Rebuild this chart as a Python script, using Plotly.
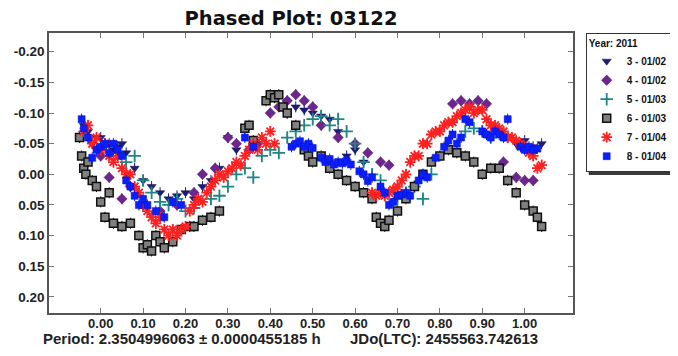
import plotly.graph_objects as go

# ---------------- data ----------------
s3_phase = [-0.04, -0.03, -0.02, -0.01, 0.00, 0.01, 0.02, 0.03, 0.04, 0.05, 0.06, 0.08,
            0.10, 0.12, 0.14, 0.16, 0.18, 0.20, 0.22, 0.24, 0.26, 0.28, 0.30, 0.32,
            0.44, 0.46, 0.48, 0.50, 0.52, 0.54, 0.56, 0.58, 0.60, 0.62,
            0.96, 0.98, 1.00, 1.02, 1.04]
s3_mag = [-0.08, -0.07, -0.05, -0.06, -0.06, -0.045, -0.05, -0.04, -0.045, -0.05, -0.035, -0.01,
          0.01, 0.02, 0.03, 0.04, 0.035, 0.03, 0.04, 0.02, 0.01, -0.01, -0.06, -0.04,
          -0.10, -0.11, -0.105, -0.10, -0.095, -0.09, -0.07, -0.03, -0.04, -0.02,
          -0.06, -0.05, -0.055, -0.045, -0.05]

s4_phase = [0.00, 0.02, 0.05, 0.07, 0.10, 0.14, 0.18, 0.22, 0.24, 0.27, 0.30, 0.32, 0.35,
            0.37, 0.40, 0.42, 0.44, 0.46, 0.48, 0.50, 0.52, 0.56, 0.60, 0.63, 0.66, 0.68,
            0.83, 0.85, 0.87, 0.89, 0.91, 0.95, 0.98, 1.00, 1.02]
s4_mag = [-0.03, 0.005, 0.04, 0.02, 0.05, 0.06, 0.05, 0.03, 0.0, -0.01, -0.06, -0.05, -0.04,
          -0.05, -0.10, -0.11, -0.12, -0.13, -0.12, -0.11, -0.08, -0.06, -0.05, -0.035, -0.02, -0.015,
          -0.115, -0.12, -0.115, -0.12, -0.115, -0.02, 0.005, 0.01, 0.01]

s5_phase = [0.06, 0.08, 0.10, 0.12, 0.14, 0.16, 0.18, 0.20, 0.22, 0.26, 0.28, 0.30, 0.32,
            0.34, 0.36, 0.38, 0.40, 0.42, 0.44, 0.46, 0.48, 0.50, 0.52, 0.54, 0.56, 0.58,
            0.60, 0.62, 0.64, 0.66, 0.70, 0.72, 0.74, 0.76, 0.78, 0.86, 0.88, 0.90, 0.92]
s5_mag = [-0.02, -0.03, 0.01, 0.03, 0.045, 0.05, 0.04, 0.06, 0.055, 0.04, 0.035, 0.02, 0.0,
          -0.01, 0.005, -0.03, -0.04, -0.035, -0.06, -0.07, -0.08, -0.09, -0.095, -0.08, -0.09, -0.07,
          -0.05, -0.02, 0.0, 0.01, 0.04, 0.03, 0.02, 0.04, 0.0, -0.07, -0.075, -0.07, -0.06]

s6_phase = [-0.05, -0.045, -0.04, -0.035, -0.03, -0.02, -0.01, 0.00, 0.01, 0.02, 0.03, 0.05,
            0.07, 0.09, 0.10, 0.11, 0.12, 0.13, 0.14, 0.15, 0.17, 0.19, 0.21,
            0.22, 0.24, 0.26, 0.28, 0.34, 0.35, 0.36, 0.39, 0.40, 0.41, 0.42, 0.43, 0.44,
            0.46, 0.48, 0.49, 0.50, 0.52, 0.54, 0.56, 0.58, 0.60, 0.62, 0.64, 0.65, 0.66,
            0.67, 0.68, 0.70, 0.72, 0.74, 0.76, 0.78, 0.80, 0.82, 0.84, 0.86, 0.88, 0.90,
            0.92, 0.94, 0.96, 0.98, 1.00, 1.02, 1.03, 1.04]
s6_mag = [-0.06, -0.03, -0.01, 0.00, -0.02, 0.01, 0.02, 0.045, 0.07, 0.03, 0.08, 0.085,
          0.08, 0.10, 0.12, 0.115, 0.125, 0.10, 0.11, 0.12, 0.11, 0.09, 0.085,
          0.085, 0.075, 0.07, 0.06, -0.075, -0.08, -0.055, -0.12, -0.13, -0.125, -0.13, -0.11, -0.10,
          -0.08, -0.04, -0.03, -0.02, -0.03, -0.01, 0.0, 0.01, 0.02, 0.03, 0.04, 0.07, 0.08,
          0.085, 0.075, 0.06, 0.04, 0.02, 0.0, -0.02, -0.03, -0.04, -0.035, -0.03, -0.02, 0.0,
          -0.01, -0.01, 0.01, 0.03, 0.05, 0.06, 0.07, 0.085]

s7_phase = [-0.04, -0.03, -0.02, -0.01, 0.00, 0.01, 0.02, 0.03, 0.04, 0.05, 0.06, 0.07, 0.08,
            0.09, 0.10, 0.11, 0.12, 0.13, 0.14, 0.15, 0.16, 0.17, 0.18, 0.19, 0.20, 0.21,
            0.22, 0.23, 0.24, 0.25, 0.26, 0.27, 0.28, 0.29, 0.30, 0.31, 0.32, 0.33, 0.34,
            0.35, 0.36, 0.37, 0.38, 0.39, 0.40, 0.41,
            0.64, 0.65, 0.66, 0.67, 0.68, 0.69, 0.70, 0.71, 0.72, 0.73, 0.74, 0.75, 0.76,
            0.77, 0.78, 0.79, 0.80, 0.81, 0.82, 0.83, 0.84, 0.85, 0.86, 0.87, 0.88, 0.89,
            0.90, 0.91, 0.92, 0.93, 0.94, 0.95, 0.96, 0.97, 0.98, 0.99, 1.00, 1.01, 1.02,
            1.03, 1.04]
s7_mag = [-0.07, -0.08, -0.05, -0.06, -0.04, -0.05, -0.03, -0.02, -0.03, -0.01, 0.0, 0.0, 0.02,
          0.03, 0.05, 0.06, 0.07, 0.08, 0.07, 0.09, 0.10, 0.09, 0.10, 0.09, 0.085, 0.06,
          0.05, 0.04, 0.045, 0.03, 0.02, 0.01, 0.0, 0.005, -0.005, -0.01, -0.02, -0.015, -0.03,
          -0.04, -0.05, -0.04, -0.06, -0.05, -0.07, -0.05,
          0.03, 0.035, 0.03, 0.035, 0.03, 0.025, 0.02, 0.01, 0.0, -0.02, -0.03, -0.03, -0.05,
          -0.05, -0.065, -0.07, -0.07, -0.08, -0.085, -0.085, -0.095, -0.10, -0.105, -0.11, -0.10, -0.105,
          -0.105, -0.09, -0.08, -0.08, -0.075, -0.07, -0.06, -0.06, -0.055, -0.05, -0.045, -0.035, -0.03,
          -0.01, -0.015]

s8_phase = [-0.045, -0.04, -0.03, -0.02, -0.01, 0.00, 0.01, 0.02, 0.03, 0.04, 0.05, 0.06,
            0.07, 0.08, 0.09, 0.10, 0.11, 0.13, 0.15, 0.17, 0.19, 0.34, 0.36,
            0.45, 0.46, 0.47, 0.48, 0.49, 0.50, 0.52, 0.53, 0.54, 0.55, 0.56, 0.57, 0.58,
            0.59, 0.61, 0.62, 0.63, 0.64, 0.66, 0.67, 0.68, 0.69, 0.70, 0.71, 0.72, 0.73,
            0.75, 0.76, 0.77, 0.79, 0.81, 0.82, 0.83, 0.84, 0.85, 0.86, 0.87, 0.90, 0.91,
            0.92, 0.93, 0.94, 0.95, 0.96, 0.99, 1.00, 1.01, 1.02, 1.03]
s8_mag = [-0.09, -0.075, -0.06, -0.027, -0.04, -0.045, -0.05, -0.035, -0.05, -0.04, -0.03, 0.01,
          0.02, 0.035, 0.05, 0.04, 0.05, 0.06, 0.07, 0.045, 0.05, -0.06, -0.045,
          -0.045, -0.05, -0.054, -0.045, -0.05, -0.043, -0.027, -0.02, -0.025, -0.016, -0.02, -0.018, -0.022,
          -0.016, -0.005, 0.0, 0.011, 0.005, 0.02, 0.03, 0.05, 0.045, 0.035, 0.033, 0.03, 0.035,
          0.01, 0.0, 0.005, -0.027, -0.045, -0.055, -0.065, -0.05, -0.06, -0.09, -0.085, -0.07, -0.065,
          -0.06, -0.07, -0.065, -0.06, -0.09, -0.045, -0.04, -0.045, -0.04, -0.042]

legend_labels = ["3 - 01/02", "4 - 01/02", "5 - 01/03", "6 - 01/03", "7 - 01/04", "8 - 01/04"]
x_ticks = [0.0, 0.1, 0.2, 0.3, 0.4, 0.5, 0.6, 0.7, 0.8, 0.9, 1.0]
y_ticks = [-0.20, -0.15, -0.10, -0.05, 0.00, 0.05, 0.10, 0.15, 0.20]

# ---------------- figure ----------------
FONT = "Liberation Sans, Arial, sans-serif"
TFONT = "DejaVu Sans, Liberation Sans, sans-serif"
series = [
    (s3_phase, s3_mag, dict(symbol="triangle-down", size=8, color="#1c1c78",
                            line=dict(width=0.5, color="#10104a")), "#1c1c78"),
    (s4_phase, s4_mag, dict(symbol="diamond", size=8, color="#6e2590",
                            line=dict(width=0.5, color="#4a1560")), "#6e2590"),
    (s5_phase, s5_mag, dict(symbol="cross-thin-open", size=9, color="#1f8585",
                            line=dict(width=1.8, color="#1f8585")), "#1f8585"),
    (s6_phase, s6_mag, dict(symbol="square", size=8, color="#808080",
                            line=dict(width=1.5, color="#111111")), "#111111"),
    (s7_phase, s7_mag, dict(symbol="asterisk-open", size=9, color="#ff2020",
                            line=dict(width=1.8, color="#ff2020")), "#ff2020"),
    (s8_phase, s8_mag, dict(symbol="square", size=7, color="#0a1eff",
                            line=dict(width=0.5, color="#0010c0")), "#0a1eff"),
]

fig = go.Figure()
for (xs, ys, mk, ecol), name in zip(series, legend_labels):
    fig.add_trace(go.Scatter(
        x=xs, y=ys, mode="markers", name=name, marker=mk,
        error_y=dict(type="constant", value=0.009, color=ecol, thickness=1, width=0),
        hoverinfo="skip",
    ))

# page body has an 8px default margin -> work in reference pixels minus 8
OFF = 8
W, H = 678 - OFF, 356 - OFF
L, R, T, B = 49.3 - OFF, 573.3 - OFF, 33.3 - OFF, 312.7 - OFF


def px_x(p):
    return (p - OFF - L) / (R - L)


def px_y(p):
    return (B - (p - OFF)) / (B - T)


leg_left, leg_top = 586, 33
leg_right, leg_bottom = 672, 172  # as rendered by plotly's legend
fig.update_layout(
    width=W, height=H,
    margin=dict(l=L, r=W - R, t=T, b=H - B, pad=0, autoexpand=False),
    paper_bgcolor="white", plot_bgcolor="white",
    font=dict(family=FONT, color="#222222"),
    title=dict(text="Phased Plot: 03122", x=(291 - OFF) / W, xref="container", xanchor="center",
               y=1 - (18 - OFF) / H, yref="container", yanchor="middle",
               font=dict(family=TFONT, size=19.5, weight="bold", color="#111111")),
    showlegend=True,
    legend=dict(
        title=dict(text="Year: 2011", font=dict(family=FONT, size=10, weight="bold", color="#111")),
        font=dict(family=FONT, size=10, weight="bold", color="#111"),
        x=px_x(leg_left), xanchor="left", y=px_y(leg_top), yanchor="top",
        bgcolor="white", bordercolor="#333333", borderwidth=1,
        itemwidth=30, tracegroupgap=0,
    ),
    shapes=[
        dict(type="rect", xref="paper", yref="paper", layer="above",
             x0=px_x(leg_left + 3), x1=px_x(leg_right + 3),
             y0=px_y(leg_top + 3), y1=px_y(leg_bottom + 3),
             fillcolor="#3a3a3a", line=dict(width=0)),
    ],
    xaxis=dict(
        range=[-0.122, 1.114], showgrid=False, zeroline=False,
        tickvals=x_ticks, ticktext=[f"{v:.2f}" for v in x_ticks],
        ticks="inside", ticklen=5, tickwidth=1, tickcolor="#777777",
        showline=True, linecolor="#555555", linewidth=1.5, mirror="allticks",
        ticklabelstandoff=-2,
        tickfont=dict(family=FONT, size=13, weight="bold", color="#222"),
    ),
    yaxis=dict(
        range=[0.2263, -0.2306], showgrid=False, zeroline=False,
        tickvals=y_ticks, ticktext=[f"{v:.2f}" for v in y_ticks],
        ticks="inside", ticklen=5, tickwidth=1, tickcolor="#777777",
        showline=True, linecolor="#555555", linewidth=1.5, mirror="allticks",
        tickfont=dict(family=FONT, size=13.5, weight="bold", color="#222"),
    ),
    annotations=[
        dict(text="Period: 2.3504996063 ± 0.0000455185 h", xref="paper", yref="paper",
             x=px_x(41), y=px_y(338), xanchor="left", yanchor="middle",
             showarrow=False, font=dict(family=FONT, size=15, weight="bold", color="#222")),
        dict(text="JDo(LTC): 2455563.742613", xref="paper", yref="paper",
             x=px_x(348), y=px_y(338), xanchor="left", yanchor="middle",
             showarrow=False, font=dict(family=FONT, size=15, weight="bold", color="#222")),
    ],
)

fig.write_html("out.html")
